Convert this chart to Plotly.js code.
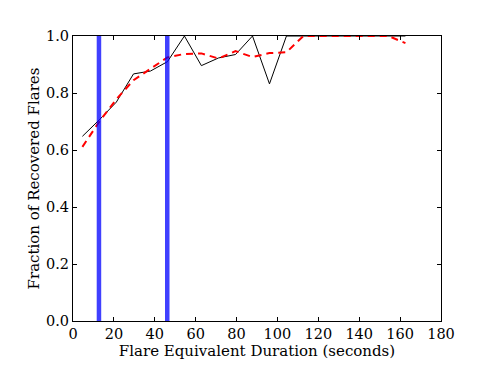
<!DOCTYPE html>
<html>
<head>
<meta charset="utf-8">
<script src="https://cdn.plot.ly/plotly-3.0.1.min.js"></script>
<style>
  html, body { margin: 0; padding: 0; background: #fff; }
  #chartDiv { width: 484px; height: 388px; }
</style>
</head>
<body>
<div id="chartDiv"></div>
<script>
// bin centres of the flare durations (seconds)
var durations = [4.6, 12.9, 21.2, 29.6, 37.9, 46.2, 54.5, 62.8, 71.2, 79.5,
                 87.8, 96.1, 104.4, 112.7, 121.1, 129.4, 137.7, 146.0, 154.3, 162.6];
// recovered fraction, measured (black) and smoothed (red dashed)
var recovered = [0.648, 0.706, 0.768, 0.867, 0.877, 0.910, 1.0, 0.896, 0.923, 0.935,
                 1.0, 0.832, 1.0, 1.0, 1.0, 1.0, 1.0, 1.0, 1.0, 1.0];
var smoothed = [0.611, 0.700, 0.778, 0.845, 0.885, 0.925, 0.937, 0.939, 0.921, 0.947,
                0.926, 0.940, 0.943, 1.0, 1.0, 1.0, 1.0, 1.0, 1.0, 0.975];
// vertical marker lines
var markers = [12.7, 46.1];
var yLimits = [0, 1];

var data = [];
data.push({
    x: durations,
    y: recovered,
    mode: 'lines',
    type: 'scatter',
    line: {color: 'black', width: 1},
    showlegend: false
});
data.push({
    x: durations,
    y: smoothed,
    mode: 'lines',
    type: 'scatter',
    line: {color: 'red', width: 2, dash: '7px,5px'},
    showlegend: false
});
markers.forEach(function (m) { // each marker is a full height blue line
    data.push({
        x: [m, m],
        y: yLimits,
        mode: 'lines',
        type: 'scatter',
        line: {color: 'rgba(0,0,255,0.75)', width: 4.5},
        showlegend: false
    });
});

var tickFont = {family: 'DejaVu Serif', size: 14.5, color: 'black'};
var titleFont = {family: 'DejaVu Serif', size: 15, color: 'black'};
var layout = {
    width: 484,
    height: 388,
    margin: {l: 73, r: 43, t: 36, b: 67},
    paper_bgcolor: 'white',
    plot_bgcolor: 'white',
    font: tickFont,
    xaxis: {
        title: {text: 'Flare Equivalent Duration (seconds)', font: titleFont, standoff: 2},
        range: [0, 180],
        dtick: 20,
        tick0: 0,
        ticks: 'inside',
        ticklen: 4,
        tickcolor: 'black',
        tickfont: tickFont,
        mirror: 'ticks',
        showline: true,
        linecolor: 'black',
        linewidth: 1,
        showgrid: false,
        zeroline: false
    },
    yaxis: {
        title: {text: 'Fraction of Recovered Flares', font: titleFont, standoff: 2},
        range: [0, 1],
        dtick: 0.2,
        tick0: 0,
        tickformat: '.1f',
        ticks: 'inside',
        ticklen: 4,
        tickcolor: 'black',
        tickfont: tickFont,
        mirror: 'ticks',
        showline: true,
        linecolor: 'black',
        linewidth: 1,
        showgrid: false,
        zeroline: false
    }
};

Plotly.newPlot('chartDiv', data, layout, {displayModeBar: false, staticPlot: true});
</script>
</body>
</html>
